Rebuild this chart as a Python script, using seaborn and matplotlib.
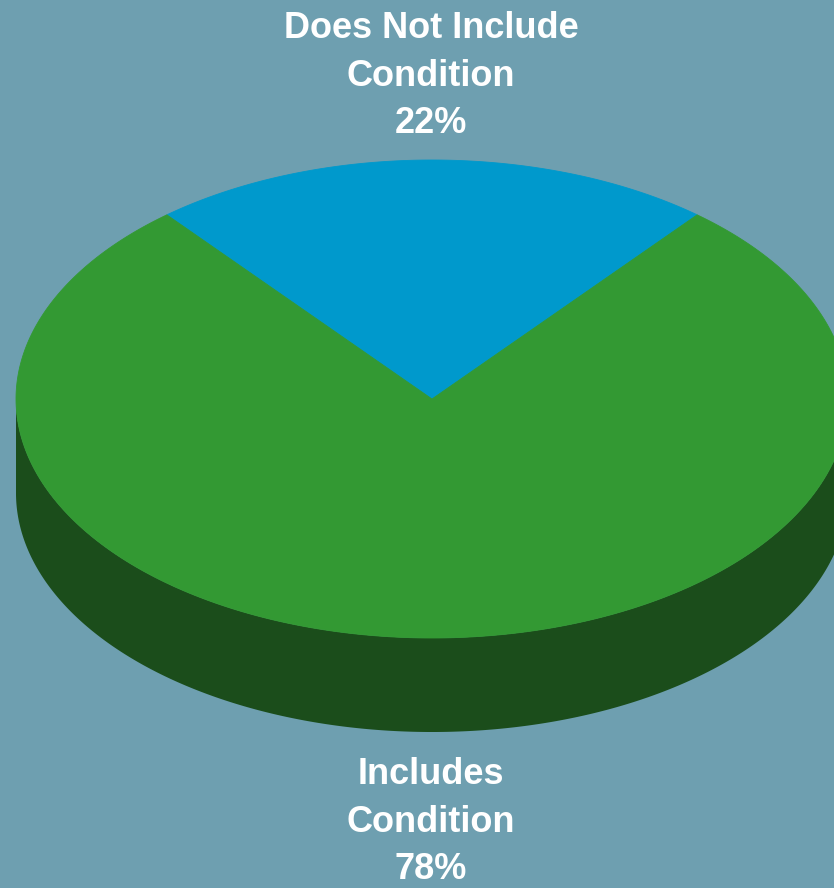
import numpy as np
import matplotlib
matplotlib.use("Agg")
import matplotlib.pyplot as plt
import seaborn as sns

# Shares of the two groups (percent)
categories = ["Does Not Include\nCondition", "Includes\nCondition"]
shares = [22, 78]
top_colors = ["#0099CC", "#339933"]
side_colors = ["#0A4D66", "#1B4D1B"]
background = "#6E9FB0"

sns.set_theme(style="white", rc={"figure.facecolor": background,
                                 "axes.facecolor": background})

W, H, DPI = 834, 888, 100
fig = plt.figure(figsize=(W / DPI, H / DPI), dpi=DPI)
ax = fig.add_axes([0, 0, 1, 1])
ax.set_xlim(0, W)
ax.set_ylim(H, 0)
ax.set_axis_off()

# Ellipse geometry of the tilted disc (pixel units, y grows downward)
cx, cy, rx, ry, depth = 432, 399, 416, 239, 94


def rim(t0, t1, n=400):
    t = np.radians(np.linspace(t0, t1, n))
    return cx + rx * np.cos(t), cy - ry * np.sin(t)


# Wedge angles: first slice centred at the top of the disc
total = sum(shares)
spans = [360 * s / total for s in shares]
start = 90 - spans[0] / 2
angles = []
for sp in spans:
    angles.append((start, start + sp))
    start += sp

# Side wall: only the front half (180..360 degrees) is visible
for (a0, a1), col in zip(angles, side_colors):
    for k in (0, 360):
        s0, s1 = max(a0 - k, 180), min(a1 - k, 360)
        if s1 <= s0:
            continue
        x, y = rim(s0, s1)
        px = np.concatenate([x, x[::-1]])
        py = np.concatenate([y, y[::-1] + depth])
        ax.fill(px, py, color=col, lw=0)

# Top face
for (a0, a1), col in zip(angles, top_colors):
    x, y = rim(a0, a1)
    ax.fill(np.concatenate([[cx], x]), np.concatenate([[cy], y]),
            color=col, lw=0.6, ec=col)

# Labels above and below the disc
label_kw = dict(ha="center", va="center", color="white", fontsize=26,
                fontweight="bold", family="Liberation Sans", linespacing=1.45)
ax.text(431, 76, f"{categories[0]}\n{shares[0]}%", **label_kw)
ax.text(431, 822, f"{categories[1]}\n{shares[1]}%", **label_kw)

fig.savefig("out.png", dpi=DPI, facecolor=background)
